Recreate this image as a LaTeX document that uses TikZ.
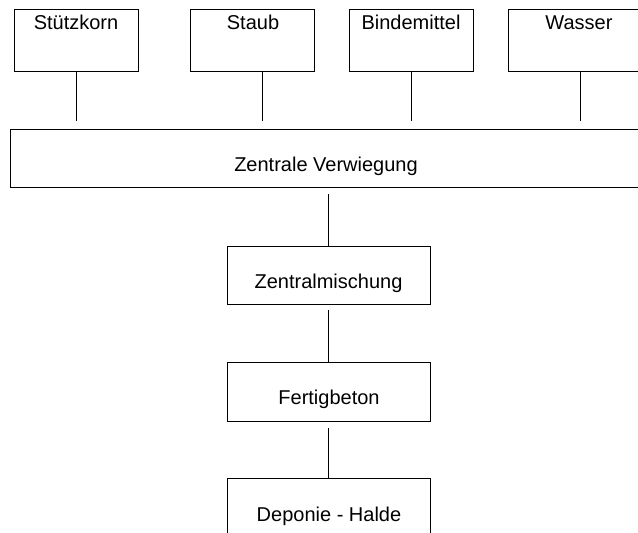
\documentclass[tikz,border=0pt]{standalone}
\usepackage{fontspec}
\setmainfont{Liberation Sans}
\begin{document}
\begin{tikzpicture}[x=1pt,y=-1pt,
  box/.style={draw, line width=1pt, inner sep=0pt, outer sep=0pt},
  lbl/.style={anchor=base, inner sep=0pt, font=\fontsize{20}{24}\selectfont},
  conn/.style={line width=1pt}]
\useasboundingbox (0,0) rectangle (638,533);
\clip (0,0) rectangle (638,533);
% boxes
\node[box, minimum width=124pt, minimum height=62pt] (stuetz) at (76,40) {};
\node[box, minimum width=124pt, minimum height=62pt] (staub) at (252,40) {};
\node[box, minimum width=124pt, minimum height=62pt] (binde) at (411,40) {};
\node[box, minimum width=160pt, minimum height=62pt] (wasser) at (588,40) {};
\node[box, minimum width=650pt, minimum height=58pt] (zv) at (335,158) {};
\node[box, minimum width=203pt, minimum height=58pt] (zm) at (328.5,275) {};
\node[box, minimum width=203pt, minimum height=59pt] (fb) at (328.5,391.5) {};
\node[box, minimum width=203pt, minimum height=82pt] (dep) at (328.5,519) {};
% labels
\node[lbl] (tstuetz) at (76,29) {Stützkorn};
\node[lbl] (tstaub) at (253,29) {Staub};
\node[lbl] (tbinde) at (411,29) {Bindemittel};
\node[lbl] (twasser) at (579,29) {Wasser};
\node[lbl] (tzv) at (326,171) {Zentrale Verwiegung};
\node[lbl] (tzm) at (328.5,288) {Zentralmischung};
\node[lbl] (tfb) at (329,404) {Fertigbeton};
\node[lbl] (tdep) at (329,521) {Deponie - Halde};
% connectors
\coordinate (cst) at ([xshift=10pt]staub.south);
\coordinate (cwa) at ([xshift=-8pt]wasser.south);
\draw[conn, shorten >=8pt] (stuetz.south) -- (stuetz.south |- zv.north);
\draw[conn, shorten >=8pt] (cst) -- (cst |- zv.north);
\draw[conn, shorten >=8pt] (binde.south) -- (binde.south |- zv.north);
\draw[conn, shorten >=8pt] (cwa) -- (cwa |- zv.north);
\draw[conn, shorten <=7pt] (zm.north |- zv.south) -- (zm.north);
\draw[conn, shorten <=6pt] (zm.south) -- (fb.north);
\draw[conn, shorten <=7pt] (fb.south) -- (dep.north);
\end{tikzpicture}
\end{document}
